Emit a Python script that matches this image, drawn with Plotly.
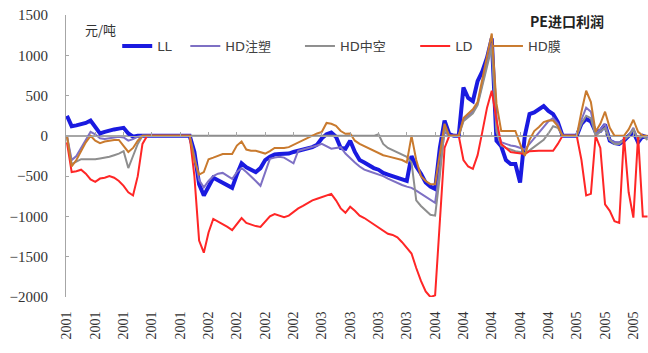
import plotly.graph_objects as go

# Category tick labels (one label every 6 observations)
tick_labels = ["2001", "2001", "2001", "2001", "2001",
               "2002", "2002", "2002", "2002",
               "2003", "2003", "2003", "2003",
               "2004", "2004", "2004", "2004", "2004",
               "2005", "2005", "2005"]
obs_per_label = 6

# PE import profit by grade, 元/吨
LL = [250, 120, 130, 140, 160, 190, 110, 30, 50, 70, 80, 90, 100, 30, -10, 0,
      0, 0, 0, 0, 0, 0, 0, 0, 0, 0, 0,
      -200, -600, -740, -640, -520, -550, -580, -610, -645, -480, -340, -390, -420, -450,
      -400, -300, -260, -230, -225, -225, -220, -200, -185, -160, -145, -140, -110, -30,
      20, 40, -10, -150, -160, -60, -200, -300, -330, -370, -400, -420,
      -460, -480, -500, -530, -550, -560, -250, -380, -470, -580, -630, -660, -150, 190,
      20, 0, 0, 600, 470, 430, 680, 800, 970, 1210,
      -60, -130, -300, -350, -350, -580, 0, 270, 290, 330, 370, 310, 270, 170,
      0, 0, 0, 0, 150, 210, 180, 50, 60, 140, -60, -90, -100, -60, 0, 50, -80, 0, -20]

HD_injection = [0, -300, -250, -150, -50, 50, 20, -30, -40, -30, -20, -10, -20, -60, -40, -10,
                0, 0, 0, 0, 0, 0, 0, 0, 0, 0, 0,
                -250, -550, -640, -560, -500, -470, -460, -500, -535, -450, -400, -450, -500, -560,
                -620, -450, -285, -270, -260, -270, -300, -340, -185, -170, -155, -140, -120, -100,
                -130, -160, -150, -140, -220, -280, -330, -380, -420, -440, -460, -480,
                -500, -530, -560, -590, -610, -630, -645, -680, -720, -760, -800, -830, -400, 50,
                0, 0, 0, 200, 250, 300, 400, 650, 900, 1150,
                100, -80, -100, -120, -130, -150, -170, -100, -30, 30, 100, 180, 220, 150,
                0, 0, 0, 0, 200, 350, 300, 30, 80, 150, -50, -80, -80, -50, 0, 100, -50, 0, -30]

HD_blow = [0, -350, -320, -290, -290, -290, -290, -280, -270, -260, -240, -220, -190, -400, -250, -100,
           0, 0, 0, 0, 0, 0, 0, 0, 0, 0, 0,
           0, 0, 0, 0, 0, 0, 0, 0, 0, 0, 0, 0, 0, 0,
           0, 0, 0, 0, 0, 0, 0, 0, 0, 0, 0, 0, 0, 0,
           0, 0, 0, 0, 0, 0, 0, 0, 0, 0, 0, 20,
           -100, -150, -180, -210, -230, -260, -330, -800, -870, -920, -980, -990, -500, 100,
           0, 0, 0, 180, 230, 280, 380, 620, 850, 1100,
           50, -120, -150, -170, -190, -200, -220, -180, -140, -100, -50, 30, 120, 100,
           0, 0, 0, 0, 150, 250, 220, 0, 50, 100, -50, -100, -100, -50, 0, 80, -50, 0, -50]

LD = [-80, -450, -440, -420, -470, -540, -570, -530, -520, -500, -520, -560, -620, -700, -740, -500,
      -100, 0, 0, 0, 0, 0, 0, 0, 0, 0, 0,
      -500, -1300, -1450, -1200, -1030, -1060, -1090, -1130, -1170, -1100, -1020, -1080, -1100, -1120,
      -1130, -1060, -1000, -970, -990, -1010, -990, -940, -900, -870, -830, -800, -780, -760,
      -735, -720, -800, -900, -955, -880, -930, -990, -1020, -1060, -1090, -1140,
      -1180, -1215, -1230, -1260, -1320, -1390, -1460, -1640, -1800, -1930, -2000, -1980, -1000, -150,
      0, 0, 0, -300, -380, -410, -240, 50, 350, 560,
      200, -100, -150, -200, -210, -220, -225, -190, -185, -185, -185, -185, -185, -100,
      0, 0, 0, 0, -300, -740, -720, 0, -150, -850, -930, -1060, -1080, 0, -700, -1015, 0, -1000, -1000]

HD_film = [0, -380, -300, -180, -80, 0, -60, -90, -70, -60, -50, -50, -120, -200, -150, -60,
           0, 0, 0, 0, 0, 0, 0, 0, 0, 0, 0,
           -300, -480, -450, -290, -270, -250, -225, -225, -225, -120, -70, -170, -185, -185,
           -200, -220, -190, -150, -150, -150, -140, -110, -90, -50, -25, 0, 30, 50,
           160, 150, 125, 60, 25, 30, -60, -100, -130, -160, -185, -220,
           -240, -255, -270, -280, -300, -330, 0, -300, -500, -560, -600, -600, -200, 150,
           0, 0, 0, 220, 270, 330, 420, 700, 950, 1270,
           400, 60, 60, 60, 60, -100, -250, -50, 60, 110, 170, 190, 190, 120,
           0, 0, 0, 0, 300, 560, 420, 50, 150, 300, 100, 0, 0, 0, 80, 200, 50, 0, 0]

x = list(range(len(LL)))
tick_vals = [i * obs_per_label for i in range(len(tick_labels))]

# name, values, colour, width, x-axis, legend id, legend x (plot fraction)
series = [
    ("LL", LL, "#1A1AE0", 4, "x", "legend", 0.088),
    ("HD注塑", HD_injection, "#7E70C4", 2, "x", "legend2", 0.205),
    ("HD中空", HD_blow, "#8E8E8E", 2, "x", "legend3", 0.402),
    ("LD", LD, "#FF2626", 2, "x", "legend4", 0.600),
    ("HD膜", HD_film, "#C97A2E", 2, "x2", "legend5", 0.725),
]

fig = go.Figure()
for name, ys, color, width, xa, leg, _ in series:
    fig.add_trace(go.Scatter(x=x, y=ys, name=name, mode="lines", xaxis=xa, legend=leg,
                             line=dict(color=color, width=width)))

axis_gray = "#A6A6A6"
tick_font = dict(family="Liberation Serif, Times New Roman, serif", size=15, color="#333333")
legend_font = dict(family="DejaVu Sans, Noto Sans CJK SC, sans-serif", size=13, color="#404040")

legends = {}
for _, _, _, _, _, leg, lx in series:
    legends[leg] = dict(orientation="h", x=lx, y=0.89, xanchor="left", yanchor="middle",
                        font=legend_font, bgcolor="rgba(0,0,0,0)")

fig.update_layout(
    width=648, height=353,
    margin=dict(l=66, r=0, t=15, b=56),
    paper_bgcolor="white", plot_bgcolor="white",
    showlegend=True,
    xaxis=dict(range=[-0.2, len(LL) - 0.9], tickmode="array", tickvals=tick_vals,
               ticktext=tick_labels, tickangle=-90, tickfont=dict(tick_font, size=14),
               showgrid=False, zeroline=False, showline=False,
               ticks="outside", ticklen=8, tickcolor="rgba(0,0,0,0)"),
    xaxis2=dict(matches="x", overlaying="x", anchor="free", position=2000 / 3500,
                tickmode="array", tickvals=tick_vals, showticklabels=False,
                ticks="inside", ticklen=4, tickcolor=axis_gray,
                showline=True, linecolor=axis_gray, linewidth=1, showgrid=False, zeroline=False),
    yaxis=dict(range=[-2000, 1500], dtick=500, tickfont=tick_font,
               showgrid=False, zeroline=True, zerolinecolor=axis_gray, zerolinewidth=1,
               showline=True, linecolor=axis_gray, linewidth=1,
               ticks="inside", ticklen=3, tickcolor=axis_gray, ticklabelstandoff=14),
    annotations=[
        dict(text="元/吨", xref="paper", yref="paper", x=0.03, y=0.95,
             xanchor="left", yanchor="middle", showarrow=False,
             font=dict(family="Noto Sans CJK SC, sans-serif", size=13, color="#333333")),
        dict(text="<b>PE进口利润</b>", xref="paper", yref="paper", x=0.86, y=0.98,
             xanchor="center", yanchor="middle", showarrow=False,
             font=dict(family="Noto Sans CJK SC, sans-serif", size=14, color="#222222")),
    ],
    **legends,
)

fig.write_html("out.html")
